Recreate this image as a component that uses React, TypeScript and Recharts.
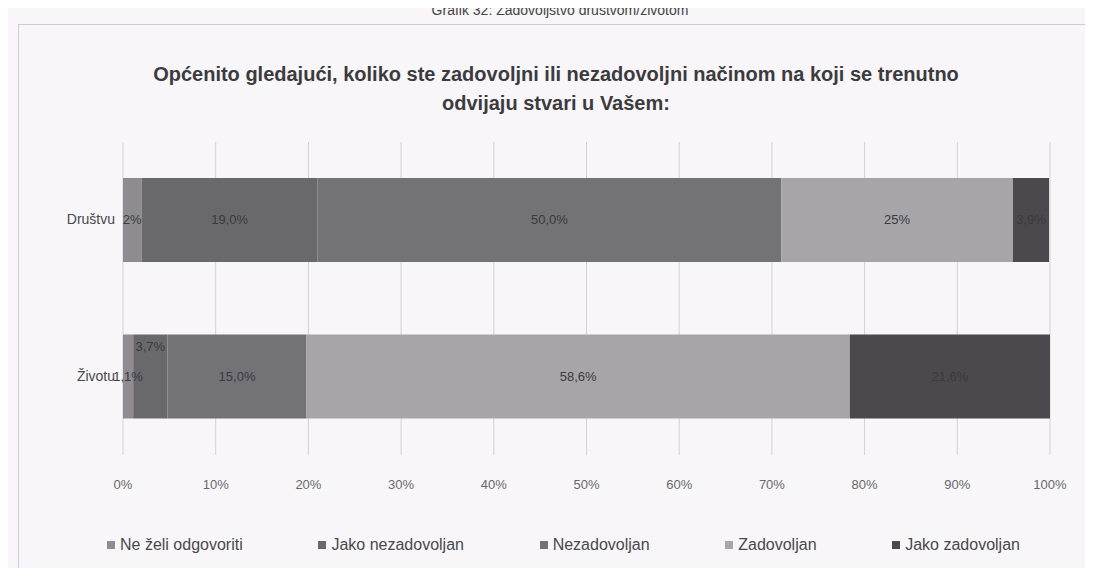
import { BarChart, Bar, XAxis, YAxis, CartesianGrid, LabelList } from "recharts";

const categories = ["Društvu", "Životu"];
const neZeli = [2, 1.1];
const jakoNezad = [19, 3.7];
const nezad = [50, 15.0];
const zad = [25, 58.6];
const jakoZad = [3.9, 21.6];
const fmt = (v: number) => (Number.isInteger(v) && v < 10 ? `${v}%` : v === 25 ? "25%" : `${v.toFixed(1).replace(".", ",")}%`);
const xTicks = [0, 10, 20, 30, 40, 50, 60, 70, 80, 90, 100];

const series = [
  { key: "neZeli", name: "Ne želi odgovoriti", color: "#8e8c91", values: neZeli },
  { key: "jakoNezad", name: "Jako nezadovoljan", color: "#69686c", values: jakoNezad },
  { key: "nezad", name: "Nezadovoljan", color: "#737276", values: nezad },
  { key: "zad", name: "Zadovoljan", color: "#a7a5aa", values: zad },
  { key: "jakoZad", name: "Jako zadovoljan", color: "#4b494e", values: jakoZad },
];

const data = categories.map((c, i) => {
  const row: any = { name: c };
  series.forEach((s) => {
    row[s.key] = s.values[i];
    row[s.key + "Label"] = fmt(s.values[i]);
  });
  return row;
});

const FONT = "'Liberation Sans', Arial, sans-serif";

function BarLabel(props: any) {
  const { x, y, width, height, value, index, skey } = props;
  const cx = x + width / 2;
  let cy = y + height / 2;
  if (skey === "jakoNezad" && index === 1) cy = y + 12;
  return (
    <text x={cx} y={cy} dy={4} textAnchor="middle" fontSize={13} fill="#3b3a3d" fontFamily={FONT}>
      {value}
    </text>
  );
}

function XTick({ x, y, payload }: any) {
  return (
    <text x={x} y={y + 26} textAnchor="middle" fontSize={13} fill="#6a686c" fontFamily={FONT}>
      {payload.value}%
    </text>
  );
}

function YTick({ x, y, payload }: any) {
  return (
    <text x={x} y={y} dy={4} textAnchor="end" fontSize={14} fill="#4a484c" fontFamily={FONT}>
      {payload.value}
    </text>
  );
}

export default function App() {
  return (
    <div style={{ position: "relative", width: 1093, height: 576, margin: -8, background: "#f8f6f9", overflow: "hidden", fontFamily: FONT }}>
      <div style={{ position: "absolute", top: 2, left: 0, width: 1120, textAlign: "center", fontSize: 14, color: "#444" }}>
        Grafik 32: Zadovoljstvo društvom/životom
      </div>
      <div style={{ position: "absolute", left: 18, top: 24, width: 1068, height: 546, border: "1px solid #cfcdd1", boxSizing: "border-box" }} />
      <div style={{ position: "absolute", top: 60, left: 0, width: 1112, textAlign: "center", fontSize: 20, fontWeight: "bold", color: "#3c3b3e", lineHeight: "29px" }}>
        Općenito gledajući, koliko ste zadovoljni ili nezadovoljni načinom na koji se trenutno
        <br />
        odvijaju stvari u Vašem:
      </div>
      <div style={{ position: "absolute", left: 0, top: 0 }}>
        <BarChart
          width={1093}
          height={576}
          layout="vertical"
          data={data}
          margin={{ top: 142, right: 43, left: 13, bottom: 91 }}
          barSize={84}
        >
          <CartesianGrid horizontal={false} stroke="#d3d1d5" />
          <XAxis type="number" domain={[0, 100]} ticks={xTicks} axisLine={false} tickLine={false} tick={<XTick />} height={30} />
          <YAxis type="category" dataKey="name" width={110} axisLine={false} tickLine={false} tick={<YTick />} />
          {series.map((s) => (
            <Bar key={s.key} dataKey={s.key} name={s.name} stackId="a" fill={s.color} isAnimationActive={false}>
              <LabelList dataKey={s.key + "Label"} content={(p: any) => <BarLabel {...p} skey={s.key} />} />
            </Bar>
          ))}
        </BarChart>
      </div>
      <div style={{ position: "absolute", top: 536, left: 107, width: 913, display: "flex", justifyContent: "space-between", fontSize: 16, color: "#4a484c" }}>
        {series.map((s) => (
          <div key={s.key} style={{ display: "flex", alignItems: "center" }}>
            <span style={{ width: 8, height: 8, background: s.color, marginRight: 5, display: "inline-block" }} />
            {s.name}
          </div>
        ))}
      </div>
    </div>
  );
}
